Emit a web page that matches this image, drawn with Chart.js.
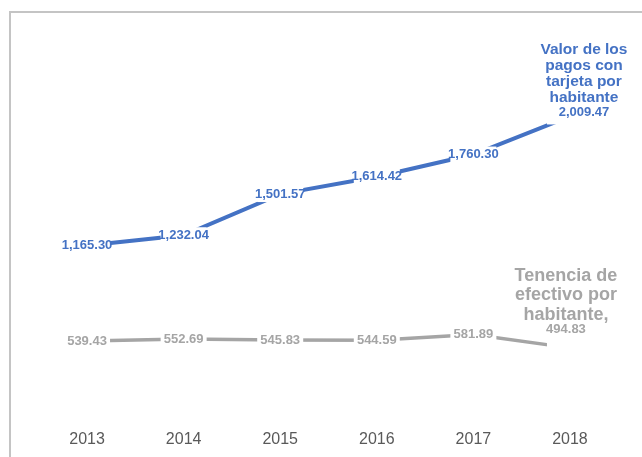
<!DOCTYPE html>
<html>
<head>
<meta charset="utf-8">
<script src="https://cdn.jsdelivr.net/npm/chart.js@4.4.1/dist/chart.umd.min.js"></script>
<style>
  html, body { margin: 0; padding: 0; background: #fff; }
  #frame {
    position: absolute; left: 9px; top: 11px; width: 640px; height: 450px;
    border-top: 2px solid #c4c4c4; border-left: 2px solid #c4c4c4;
  }
  #chart { position: absolute; left: 0; top: 0; }
</style>
</head>
<body>
<div id="frame"></div>
<canvas id="chart" width="642" height="457"></canvas>
<script>
/* ---------- data ---------- */
const YEARS = ['2013', '2014', '2015', '2016', '2017', '2018'];
const PAGOS_TARJETA = [1165.30, 1232.04, 1501.57, 1614.42, 1760.30, 2009.47];
const EFECTIVO = [539.43, 552.69, 545.83, 544.59, 581.89, 494.83];
const NAME_PAGOS = ['Valor de los', 'pagos con', 'tarjeta por', 'habitante'];
const NAME_EFECTIVO = ['Tenencia de', 'efectivo por', 'habitante,'];

const BLUE = '#4472C4';
const GRAY = '#A5A5A5';
const FONT = '"Liberation Sans", Arial, Helvetica, sans-serif';

const fmt = (v) => v.toLocaleString('en-US', { minimumFractionDigits: 2, maximumFractionDigits: 2 });

// etiquetas de datos estilo Excel (caja blanca sobre el punto)
const pointLabels = {
  id: 'pointLabels',
  afterDatasetsDraw(chart, args, opts) {
    const ctx = chart.ctx;
    ctx.save();
    chart.data.datasets.forEach((ds, i) => {
      const meta = chart.getDatasetMeta(i);
      const cfg = opts.series[i];
      meta.data.forEach((pt, j) => {
        ctx.fillStyle = '#fff';
        ctx.fillRect(pt.x - 23, pt.y - 8, 46, 16);
        ctx.fillStyle = ds.borderColor;
        ctx.textAlign = 'center';
        ctx.textBaseline = 'middle';
        const last = j === meta.data.length - 1;
        if (!last) {
          ctx.font = `bold 13px ${FONT}`;
          ctx.fillText(fmt(ds.data[j]), pt.x, pt.y);
          return;
        }
        // último punto: nombre de la serie + valor
        const x = pt.x + cfg.dx;
        ctx.font = `bold ${cfg.nameSize}px ${FONT}`;
        cfg.name.forEach((line, k) => {
          ctx.fillText(line, x, pt.y + cfg.dy + k * cfg.lineH);
        });
        ctx.font = `bold 13px ${FONT}`;
        ctx.fillText(fmt(ds.data[j]), x, pt.y + cfg.valDy);
      });
    });
    ctx.restore();
  }
};

new Chart(document.getElementById('chart'), {
  type: 'line',
  data: {
    labels: YEARS,
    datasets: [
      { label: 'Valor de los pagos con tarjeta por habitante', data: PAGOS_TARJETA,
        borderColor: BLUE, borderWidth: 4, pointRadius: 0, tension: 0, borderCapStyle: 'butt' },
      { label: 'Tenencia de efectivo por habitante', data: EFECTIVO,
        borderColor: GRAY, borderWidth: 3.5, pointRadius: 0, tension: 0, borderCapStyle: 'butt' }
    ]
  },
  options: {
    responsive: false,
    animation: false,
    layout: { padding: { left: 38.75, right: 23.75, top: 41.5, bottom: 0.5 } },
    scales: {
      x: {
        offset: true,
        grid: { display: false, drawTicks: false },
        border: { display: false },
        ticks: { color: '#595959', padding: 6.9, font: { family: FONT, size: 16 } }
      },
      y: { display: false, min: 0, max: 2500 }
    },
    plugins: {
      legend: { display: false },
      tooltip: { enabled: false },
      pointLabels: {
        series: [
          { name: NAME_PAGOS, nameSize: 15.5, lineH: 16, dx: 14, dy: -66.5, valDy: -4.5 },
          { name: NAME_EFECTIVO, nameSize: 18, lineH: 19.5, dx: -4, dy: -72, valDy: -18 }
        ]
      }
    }
  },
  plugins: [pointLabels]
});
</script>
</body>
</html>
